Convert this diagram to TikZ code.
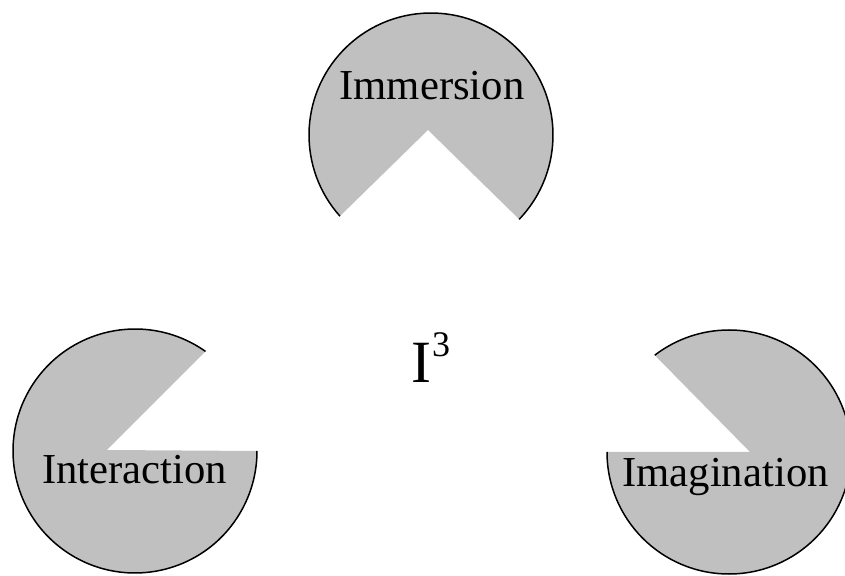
\documentclass[tikz,border=0pt]{standalone}
\usepackage{fontspec}
\setmainfont{Liberation Serif}
\definecolor{pacgrey}{RGB}{192,192,192}
\begin{document}
\begin{tikzpicture}[x=1pt,y=1pt,
  pacfill/.style={fill=pacgrey},
  pacarc/.style={draw=black,line width=1.5pt},
  lbl/.style={font=\fontsize{42.7}{50}\selectfont,inner sep=0pt,anchor=base}]
\useasboundingbox (0,0) rectangle (845,575);
% top
\coordinate (topc) at (431,440);
\coordinate (topapex) at (428,445);
\fill[pacfill] ([shift={(-43.7:122)}]topc) arc[start angle=-43.7,end angle=221.7,radius=122] -- (topapex) -- cycle;
\draw[pacarc] ([shift={(-43.7:122)}]topc) arc[start angle=-43.7,end angle=221.7,radius=122];
% left
\coordinate (leftc) at (135,124);
\coordinate (leftapex) at (107,125);
\fill[pacfill] ([shift={(54.7:122)}]leftc) arc[start angle=54.7,end angle=360,radius=122] -- (leftapex) -- cycle;
\draw[pacarc] ([shift={(54.7:122)}]leftc) arc[start angle=54.7,end angle=360,radius=122];
% right
\coordinate (rightc) at (729,123);
\coordinate (rightapex) at (750,123);
\fill[pacfill] ([shift={(180:122)}]rightc) arc[start angle=180,end angle=487.5,radius=122] -- (rightapex) -- cycle;
\draw[pacarc] ([shift={(180:122)}]rightc) arc[start angle=180,end angle=487.5,radius=122];
% labels
\node[lbl] (immersion) at (432,475) {Immersion};
\node[lbl] (interaction) at (134.5,91) {Interaction};
\node[lbl] (imagination) at (725.5,88) {Imagination};
\node[inner sep=0pt,anchor=base west,font=\fontsize{60}{60}\selectfont] (ithree) at (411,192) {I\hspace{1pt}\raisebox{26pt}{\fontsize{36}{36}\selectfont 3}};
\end{tikzpicture}
\end{document}
